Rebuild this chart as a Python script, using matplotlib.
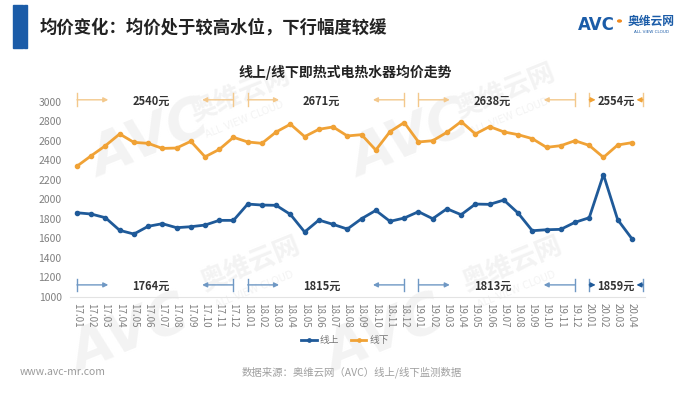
import numpy as np
import matplotlib
matplotlib.use('Agg')
import matplotlib.pyplot as plt
from matplotlib.patches import Rectangle, Circle

plt.rcParams['font.family'] = ['Noto Sans CJK SC', 'DejaVu Sans']

months = ['17.01', '17.02', '17.03', '17.04', '17.05', '17.06', '17.07', '17.08', '17.09', '17.10', '17.11', '17.12',
          '18.01', '18.02', '18.03', '18.04', '18.05', '18.06', '18.07', '18.08', '18.09', '18.10', '18.11', '18.12',
          '19.01', '19.02', '19.03', '19.04', '19.05', '19.06', '19.07', '19.08', '19.09', '19.10', '19.11', '19.12',
          '20.01', '20.02', '20.03', '20.04']

online = [1863, 1850, 1812, 1683, 1645, 1724, 1751, 1710, 1720, 1737, 1785, 1785,
          1952, 1942, 1939, 1846, 1666, 1788, 1744, 1696, 1802, 1887, 1775, 1809,
          1874, 1802, 1904, 1843, 1952, 1949, 1993, 1860, 1679, 1689, 1693, 1765,
          1812, 2254, 1792, 1597]

offline = [2340, 2447, 2550, 2670, 2584, 2574, 2522, 2526, 2595, 2436, 2512, 2636,
           2588, 2574, 2691, 2770, 2643, 2718, 2742, 2650, 2663, 2505, 2694, 2787,
           2588, 2601, 2687, 2797, 2670, 2746, 2691, 2663, 2622, 2533, 2550, 2601,
           2553, 2430, 2557, 2581]

# yearly averages (label text) and the month span of each bracket
year_spans = [(0, 11), (12, 23), (24, 35), (36, 39.77)]
offline_avg = ['2540元', '2671元', '2638元', '2554元']
online_avg = ['1764元', '1815元', '1813元', '1859元']

blue = '#1F5A99'
orange = '#F0A236'
blue_light = '#6F98C4'
orange_light = '#F3C88C'

fig = plt.figure(figsize=(7, 3.94), dpi=100)

# faint watermarks, kept behind everything
wm = '#F3F3F3'
for (ax_, ay_), (bx_, by_) in [((150, 140), (240, 95)), ((410, 140), (505, 92)),
                                 ((130, 335), (250, 265)), ((385, 335), (512, 265))]:
    fig.text(ax_ / 700, 1 - ay_ / 394, 'AVC', fontsize=40, fontweight='bold', style='italic',
             color=wm, rotation=22, ha='center', va='center', zorder=-5, family='DejaVu Sans')
    fig.text(bx_ / 700, 1 - by_ / 394, '奥维云网', fontsize=19, fontweight='bold',
             color=wm, rotation=22, ha='center', va='center', zorder=-5)
    fig.text((bx_ + 5) / 700, 1 - (by_ + 25) / 394, 'ALL VIEW CLOUD', fontsize=7,
             color=wm, rotation=22, ha='center', va='center', zorder=-5, family='DejaVu Sans')

# header
fig.patches.append(Rectangle((13 / 700, 1 - 48 / 394), 10 / 700, 43 / 394,
                             transform=fig.transFigure, color='#1B5CA8', zorder=2))
fig.patches.append(Rectangle((24 / 700, 1 - 48 / 394), 2.5 / 700, 43 / 394,
                             transform=fig.transFigure, color='#1B5CA8', zorder=2))
fig.text(40 / 700, 1 - 28 / 394, '均价变化：均价处于较高水位，下行幅度较缓', fontsize=12.5,
         fontweight='bold', color='#222222', ha='left', va='center')

# logo
fig.text(596 / 700, 1 - 25 / 394, 'AVC', fontsize=12, fontweight='bold', color='#1B5CA8',
         ha='center', va='center', family='DejaVu Sans')
fig.patches.append(Circle((619.5 / 700, 1 - 21 / 394), 1.8 / 700, transform=fig.transFigure,
                          color='#F08A1E', zorder=2))
fig.text(651 / 700, 1 - 21 / 394, '奥维云网', fontsize=8.5, fontweight='bold', color='#1B5CA8',
         ha='center', va='center')
fig.text(651 / 700, 1 - 32 / 394, 'ALL VIEW CLOUD', fontsize=3, color='#1B5CA8',
         ha='center', va='center', family='DejaVu Sans')

# chart title
fig.text(345 / 700, 1 - 72 / 394, '线上/线下即热式电热水器均价走势', fontsize=10,
         fontweight='bold', color='#222222', ha='center', va='center')

ax = fig.add_axes([70 / 700, 1 - 297 / 394, 575 / 700, 205 / 394])
ax.patch.set_alpha(0)
x = np.arange(len(months))
ax.plot(x, online, color=blue, lw=2, marker='o', ms=3, label='线上', zorder=3)
ax.plot(x, offline, color=orange, lw=2, marker='o', ms=3, label='线下', zorder=3)

ax.set_xlim(-0.49, 39.92)
ax.set_ylim(1000, 3100)
ax.set_yticks(range(1000, 3001, 200))
ax.set_xticks(x)
ax.set_xticklabels(months, rotation=-90, fontsize=7, color='#808080')
ax.tick_params(axis='y', labelsize=7.5, labelcolor='#808080', length=0, pad=6)
ax.tick_params(axis='x', length=0, pad=4)
for s in ['top', 'right', 'left']:
    ax.spines[s].set_visible(False)
ax.spines['bottom'].set_color('#E3E3E3')


def bracket(y, s, e, text, c_line, c_head):
    h = 65
    ax.plot([s, s], [y - h, y + h], color=c_line, lw=1, zorder=2)
    ax.plot([e, e], [y - h, y + h], color=c_line, lw=1, zorder=2)
    if e - s > 5:
        d, c = 2.2, c_line
    else:
        d, c = 0.45, c_head
    ax.annotate('', xy=(s + d, y), xytext=(s, y),
                arrowprops=dict(arrowstyle='-|>', color=c, lw=1, mutation_scale=7,
                                shrinkA=0, shrinkB=0))
    ax.annotate('', xy=(e - d, y), xytext=(e, y),
                arrowprops=dict(arrowstyle='-|>', color=c, lw=1, mutation_scale=7,
                                shrinkA=0, shrinkB=0))
    ax.text((s + e) / 2 - (0.3 if e - s > 5 else 0), y - 15, text, fontsize=8, fontweight='bold',
            color='#333333', ha='center', va='center')


for (s, e), t in zip(year_spans, offline_avg):
    bracket(3020, s, e, t, orange_light, orange)
for (s, e), t in zip(year_spans, online_avg):
    bracket(1124, s, e, t, blue_light, blue)

leg = fig.legend(loc='center', bbox_to_anchor=(345 / 700, 1 - 340 / 394), ncol=2, frameon=False,
                 fontsize=7, handlelength=1.6, handletextpad=0.3, columnspacing=1.2, markerscale=0.8)
for t in leg.get_texts():
    t.set_color('#777777')

# footer
fig.text(20 / 700, 1 - 372 / 394, 'www.avc-mr.com', fontsize=7.5, color='#9A9A9A',
         ha='left', va='center')
fig.text(352 / 700, 1 - 372 / 394, '数据来源：奥维云网（AVC）线上/线下监测数据', fontsize=7.5,
         color='#A0A0A0', ha='center', va='center')

fig.savefig('out.png', dpi=100)
